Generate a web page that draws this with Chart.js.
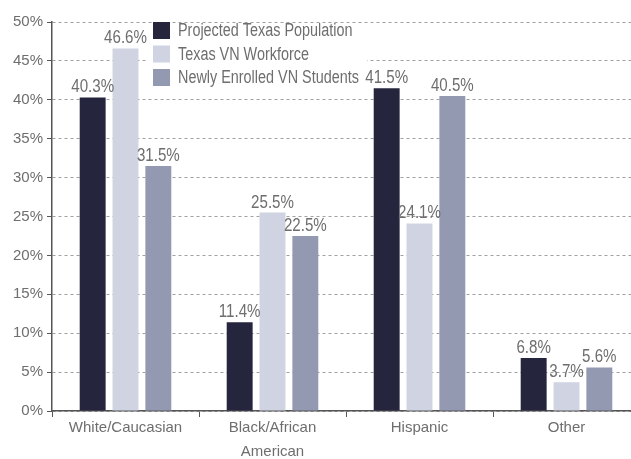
<!DOCTYPE html>
<html>
<head>
<meta charset="utf-8">
<script src="https://cdn.jsdelivr.net/npm/chart.js@4"></script>
<style>
  html, body { margin: 0; padding: 0; background: #fff; overflow: hidden; }
  #wrap { width: 640px; height: 459px; }
</style>
</head>
<body>
<div id="wrap"><canvas id="vnChart"></canvas></div>
<script>
const categories = ["White/Caucasian", ["Black/African", "American"], "Hispanic", "Other"];
const seriesNames = ["Projected Texas Population", "Texas VN Workforce", "Newly Enrolled VN Students"];
const texasPopulation = [40.3, 11.4, 41.5, 6.8];
const vnWorkforce = [46.6, 25.5, 24.1, 3.7];
const newStudents = [31.5, 22.5, 40.5, 5.6];
const seriesColors = ["#25263e", "#d0d4e2", "#9499b2"];

const FONT = "'Liberation Sans', Arial, sans-serif";
const TEXT = "#6e6e6e";

// narrow text, the original uses a condensed face
function narrowText(c, str, x, y, sx) {
  c.save();
  c.translate(x, y);
  c.scale(sx, 1);
  c.fillText(str, 0, 0);
  c.restore();
}

const barLabels = {
  id: "barLabels",
  afterDatasetsDraw(chart) {
    const c = chart.ctx;
    c.save();
    c.font = "18px " + FONT;
    c.fillStyle = TEXT;
    c.textAlign = "center";
    c.textBaseline = "bottom";
    chart.data.datasets.forEach((ds, i) => {
      chart.getDatasetMeta(i).data.forEach((bar, j) => {
        narrowText(c, ds.data[j].toFixed(1) + "%", bar.x, bar.y - 1, 0.84);
      });
    });
    c.restore();
  },
};

const innerLegend = {
  id: "innerLegend",
  beforeDatasetsDraw(chart) {
    const c = chart.ctx;
    c.save();
    c.fillStyle = "#fff";
    c.fillRect(147, 25, 220, 63);
    c.restore();
  },
  afterDraw(chart) {
    const c = chart.ctx;
    c.save();
    c.font = "18px " + FONT;
    c.textBaseline = "middle";
    chart.data.datasets.forEach((ds, i) => {
      const y = 30.5 + i * 23.5;
      c.fillStyle = ds.backgroundColor;
      c.fillRect(153, y - 8.5, 17, 17);
      c.fillStyle = TEXT;
      narrowText(c, ds.label, 178, y + 1, 0.8);
    });
    c.restore();
  },
};

new Chart(document.getElementById("vnChart"), {
  type: "bar",
  data: {
    labels: categories,
    datasets: [
      { label: seriesNames[0], data: texasPopulation, backgroundColor: seriesColors[0] },
      { label: seriesNames[1], data: vnWorkforce, backgroundColor: seriesColors[1] },
      { label: seriesNames[2], data: newStudents, backgroundColor: seriesColors[2] },
    ],
  },
  options: {
    responsive: true,
    maintainAspectRatio: false,
    animation: false,
    categoryPercentage: 0.67,
    barPercentage: 0.79,
    layout: { padding: { top: 22, left: 2, right: 0, bottom: 0 } },
    plugins: {
      legend: { display: false },
      tooltip: { enabled: false },
    },
    scales: {
      x: {
        afterFit(scale) { scale.height = 48; },
        grid: {
          offset: true,
          drawOnChartArea: false,
          tickLength: 6,
          color: "#555",
        },
        border: { color: "#555", width: 1.5 },
        ticks: {
          color: TEXT,
          font: { family: FONT, size: 15, lineHeight: 1.6 },
          padding: -1,
        },
      },
      y: {
        min: 0,
        max: 50,
        afterFit(scale) { scale.width = 50; },
        ticks: {
          stepSize: 5,
          color: TEXT,
          font: { family: FONT, size: 15 },
          padding: 4,
          callback: (v) => v + "%",
        },
        grid: {
          color: "#a0a0a0",
          tickLength: 5,
          tickColor: "#555",
        },
        border: { color: "#555", width: 1.5, dash: [3, 3] },
      },
    },
  },
  plugins: [barLabels, innerLegend],
});
</script>
</body>
</html>
